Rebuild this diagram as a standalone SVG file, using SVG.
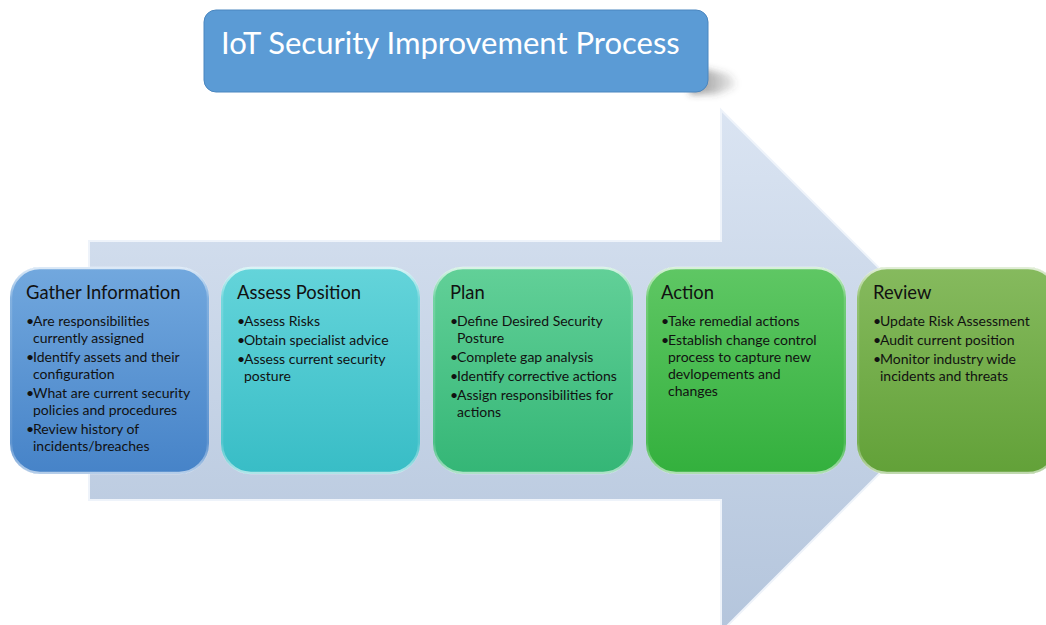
<svg xmlns="http://www.w3.org/2000/svg" width="1046" height="625" viewBox="0 0 1046 625">
  <defs>
    <linearGradient id="arrowFill" x1="0" y1="0" x2="0" y2="1">
      <stop offset="0" stop-color="#dae4f2"/>
      <stop offset="1" stop-color="#b4c5dc"/>
    </linearGradient>
    <linearGradient id="gBlue" x1="0" y1="0" x2="0" y2="1">
      <stop offset="0" stop-color="#72a8de"/>
      <stop offset="1" stop-color="#4683c8"/>
    </linearGradient>
    <linearGradient id="gTeal" x1="0" y1="0" x2="0" y2="1">
      <stop offset="0" stop-color="#64d4da"/>
      <stop offset="1" stop-color="#38bdc6"/>
    </linearGradient>
    <linearGradient id="gSea" x1="0" y1="0" x2="0" y2="1">
      <stop offset="0" stop-color="#62d098"/>
      <stop offset="1" stop-color="#34b676"/>
    </linearGradient>
    <linearGradient id="gGreen" x1="0" y1="0" x2="0" y2="1">
      <stop offset="0" stop-color="#5fc764"/>
      <stop offset="1" stop-color="#33b03d"/>
    </linearGradient>
    <linearGradient id="gOlive" x1="0" y1="0" x2="0" y2="1">
      <stop offset="0" stop-color="#86ba5e"/>
      <stop offset="1" stop-color="#62a138"/>
    </linearGradient>
    <linearGradient id="rim" x1="0" y1="0" x2="0" y2="1">
      <stop offset="0" stop-color="#ffffff" stop-opacity="0.75"/>
      <stop offset="0.15" stop-color="#ffffff" stop-opacity="0.15"/>
      <stop offset="0.85" stop-color="#ffffff" stop-opacity="0.1"/>
      <stop offset="1" stop-color="#ffffff" stop-opacity="0.6"/>
    </linearGradient>
    <linearGradient id="shadowFade" x1="0" y1="0" x2="1" y2="0">
      <stop offset="0" stop-color="#404040" stop-opacity="0.6"/>
      <stop offset="1" stop-color="#404040" stop-opacity="0.1"/>
    </linearGradient>
    <filter id="blur4" x="-50%" y="-50%" width="200%" height="200%">
      <feGaussianBlur stdDeviation="3.5"/>
    </filter>
  </defs>
  <style>
    .step-title { font-family: Lato, "Liberation Sans", sans-serif; font-size: 18.4px; fill: #111111; }
    .item { font-family: Lato, "Liberation Sans", sans-serif; font-size: 14px; fill: #111111; }
    .heading { font-family: Lato, "Liberation Sans", sans-serif; font-size: 31px; fill: #ffffff; }
    .box-rim { fill: none; stroke: url(#rim); stroke-width: 2.5; }
  </style>

  <!-- Background process arrow -->
  <g id="process-arrow">
    <path d="M89,241 H721 V110 L982,371 L721,632 V500 H89 Z" fill="url(#arrowFill)" stroke="#eef3fa" stroke-width="2"/>
  </g>

  <!-- Heading with a cast shadow falling to the right -->
  <g id="heading">
    <path d="M690,66 L728,74 Q738,80 734,88 L716,94 L690,94 Z" fill="url(#shadowFade)" filter="url(#blur4)"/>
    <rect x="204" y="10" width="504" height="82" rx="12" fill="#5b9bd5" stroke="#4a86bf" stroke-width="1"/>
    <text class="heading" x="221" y="54">IoT Security Improvement Process</text>
  </g>

  <!-- Step 1 -->
  <g id="gather-information">
    <rect x="10" y="267" width="199" height="207" rx="30" fill="url(#gBlue)"/>
    <rect x="11" y="268" width="197" height="205" rx="29" class="box-rim"/>
    <text class="step-title" x="26" y="299">Gather Information</text>
    <text class="item" x="26" y="326">•</text><text class="item" x="33" y="326">Are responsibilities</text>
    <text class="item" x="33" y="343">currently assigned</text>
    <text class="item" x="26" y="362">•</text><text class="item" x="33" y="362">Identify assets and their</text>
    <text class="item" x="33" y="379">configuration</text>
    <text class="item" x="26" y="398">•</text><text class="item" x="33" y="398">What are current security</text>
    <text class="item" x="33" y="415">policies and procedures</text>
    <text class="item" x="26" y="434">•</text><text class="item" x="33" y="434">Review history of</text>
    <text class="item" x="33" y="451">incidents/breaches</text>
  </g>

  <!-- Step 2 -->
  <g id="assess-position">
    <rect x="221" y="267" width="199" height="207" rx="30" fill="url(#gTeal)"/>
    <rect x="222" y="268" width="197" height="205" rx="29" class="box-rim"/>
    <text class="step-title" x="237" y="299">Assess Position</text>
    <text class="item" x="237" y="326">•</text><text class="item" x="244" y="326">Assess Risks</text>
    <text class="item" x="237" y="345">•</text><text class="item" x="244" y="345">Obtain specialist advice</text>
    <text class="item" x="237" y="364">•</text><text class="item" x="244" y="364">Assess current security</text>
    <text class="item" x="244" y="381">posture</text>
  </g>

  <!-- Step 3 -->
  <g id="plan">
    <rect x="433" y="267" width="200" height="207" rx="30" fill="url(#gSea)"/>
    <rect x="434" y="268" width="198" height="205" rx="29" class="box-rim"/>
    <text class="step-title" x="450" y="299">Plan</text>
    <text class="item" x="450" y="326">•</text><text class="item" x="457" y="326">Define Desired Security</text>
    <text class="item" x="457" y="343">Posture</text>
    <text class="item" x="450" y="362">•</text><text class="item" x="457" y="362">Complete gap analysis</text>
    <text class="item" x="450" y="381">•</text><text class="item" x="457" y="381">Identify corrective actions</text>
    <text class="item" x="450" y="400">•</text><text class="item" x="457" y="400">Assign responsibilities for</text>
    <text class="item" x="457" y="417">actions</text>
  </g>

  <!-- Step 4 -->
  <g id="action">
    <rect x="646" y="267" width="200" height="207" rx="30" fill="url(#gGreen)"/>
    <rect x="647" y="268" width="198" height="205" rx="29" class="box-rim"/>
    <text class="step-title" x="661" y="299">Action</text>
    <text class="item" x="661" y="326">•</text><text class="item" x="668" y="326">Take remedial actions</text>
    <text class="item" x="661" y="345">•</text><text class="item" x="668" y="345">Establish change control</text>
    <text class="item" x="668" y="362">process to capture new</text>
    <text class="item" x="668" y="379">devlopements and</text>
    <text class="item" x="668" y="396">changes</text>
  </g>

  <!-- Step 5 -->
  <g id="review">
    <rect x="857" y="267" width="201" height="207" rx="30" fill="url(#gOlive)"/>
    <rect x="858" y="268" width="199" height="205" rx="29" class="box-rim"/>
    <text class="step-title" x="873" y="299">Review</text>
    <text class="item" x="873" y="326">•</text><text class="item" x="880" y="326">Update Risk Assessment</text>
    <text class="item" x="873" y="345">•</text><text class="item" x="880" y="345">Audit current position</text>
    <text class="item" x="873" y="364">•</text><text class="item" x="880" y="364">Monitor industry wide</text>
    <text class="item" x="880" y="381">incidents and threats</text>
  </g>

  <!-- No connectors: the steps sit on the shared arrow -->
  <g id="connectors"/>
</svg>
